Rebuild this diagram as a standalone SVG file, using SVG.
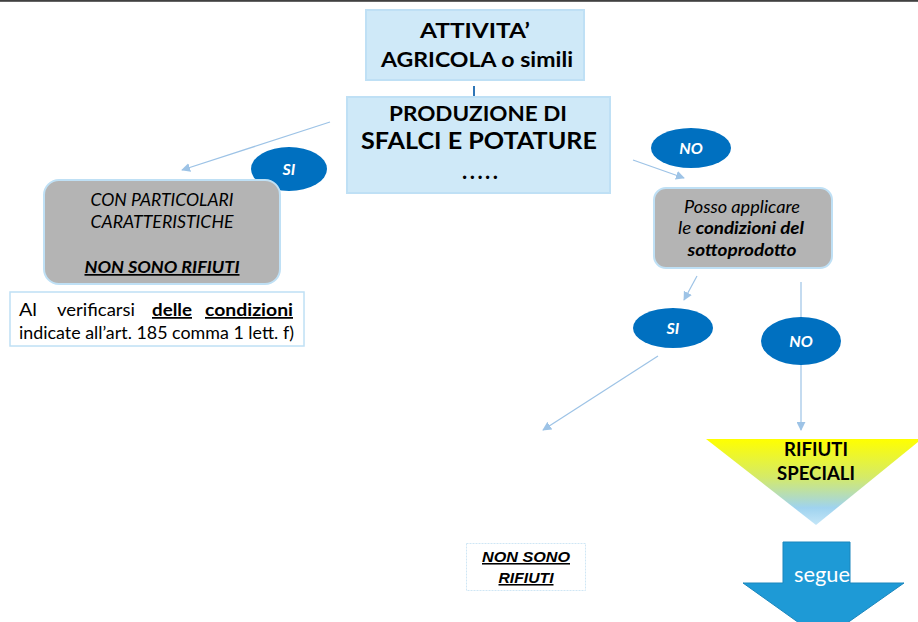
<svg xmlns="http://www.w3.org/2000/svg" width="918" height="622" viewBox="0 0 918 622">
<defs>
<style>
.t{font-family:Lato,"Open Sans","Liberation Sans",sans-serif;fill:#000}
.b{font-weight:bold}
.i{font-style:italic}
.lbl{font-family:Lato,"Open Sans","Liberation Sans",sans-serif;font-weight:bold;font-style:italic;fill:#fff;font-size:16px;text-anchor:middle}
.oval{fill:#0070c0}
.conn{stroke:#9dc3e6;stroke-width:1.2;fill:none}
.gray{fill:#b4b4b4;stroke:#bfe0f5;stroke-width:2}
.lb{fill:#cfe9f8;stroke:#bfe0f5;stroke-width:2}
.nsr{font-family:"Liberation Sans",Arial,sans-serif;font-weight:bold;font-style:italic;font-size:15.5px;text-anchor:middle;text-decoration:underline}
</style>
<marker id="ah" viewBox="0 0 10 10" refX="9" refY="5" markerWidth="9" markerHeight="9" markerUnits="userSpaceOnUse" orient="auto">
<path d="M0,0 L10,5 L0,10 z" fill="#9dc3e6"/>
</marker>
<marker id="ahd" viewBox="0 0 10 10" refX="9" refY="5" markerWidth="7" markerHeight="7" markerUnits="userSpaceOnUse" orient="auto">
<path d="M0,0 L10,5 L0,10 z" fill="#2e75b6"/>
</marker>
<linearGradient id="tri" x1="0" y1="0" x2="0" y2="1">
<stop offset="0" stop-color="#ffff00"/>
<stop offset="0.45" stop-color="#d4ea6a"/>
<stop offset="0.8" stop-color="#9fd3ef"/>
<stop offset="1" stop-color="#c4e6f8"/>
</linearGradient>
</defs>
<rect x="0" y="0" width="918" height="622" fill="#fff"/>
<rect x="0" y="0" width="918" height="1.8" fill="#404040"/>

<g id="connectors">
<line x1="474" y1="86" x2="474" y2="103" stroke="#2e75b6" stroke-width="2" marker-end="url(#ahd)"/>
<line class="conn" x1="330" y1="122" x2="182" y2="170" marker-end="url(#ah)"/>
<line class="conn" x1="633" y1="160" x2="684" y2="178" marker-end="url(#ah)"/>
<line class="conn" x1="697" y1="276" x2="684" y2="300" marker-end="url(#ah)"/>
<line class="conn" x1="801" y1="282" x2="801" y2="430" marker-end="url(#ah)"/>
<line class="conn" x1="658" y1="356" x2="543" y2="430" marker-end="url(#ah)"/>
</g>

<g id="attivita">
<rect class="lb" x="366" y="10" width="218" height="70"/>
<text class="t b" x="475" y="38" font-size="21" text-anchor="middle" textLength="110" lengthAdjust="spacingAndGlyphs">ATTIVITA’</text>
<text class="t b" x="477" y="67" font-size="20" text-anchor="middle" textLength="192" lengthAdjust="spacingAndGlyphs">AGRICOLA o simili</text>
</g>

<g id="produzione">
<rect class="lb" x="347" y="97" width="263" height="96"/>
<text class="t b" x="478" y="121" font-size="20.5" text-anchor="middle" textLength="178" lengthAdjust="spacingAndGlyphs">PRODUZIONE DI</text>
<text class="t b" x="479" y="149" font-size="23.5" text-anchor="middle" textLength="236" lengthAdjust="spacingAndGlyphs">SFALCI E POTATURE</text>
<text class="t b" x="480" y="179" font-size="22" text-anchor="middle" textLength="36" lengthAdjust="spacing">.....</text>
</g>

<g id="si1">
<ellipse class="oval" cx="289" cy="169" rx="38" ry="22"/>
<text class="lbl" x="289" y="175">SI</text>
</g>

<g id="particolari">
<rect class="gray" x="44" y="180" width="236" height="104" rx="15"/>
<text class="t i" x="162" y="206" font-size="17" text-anchor="middle" textLength="143" lengthAdjust="spacingAndGlyphs">CON PARTICOLARI</text>
<text class="t i" x="162" y="228" font-size="17" text-anchor="middle" textLength="143" lengthAdjust="spacingAndGlyphs">CARATTERISTICHE</text>
<text class="t b i" x="162" y="273" font-size="17" text-anchor="middle" text-decoration="underline" textLength="155" lengthAdjust="spacingAndGlyphs">NON SONO RIFIUTI</text>
</g>

<g id="condizioni">
<rect x="10" y="292" width="294" height="54" fill="#fff" stroke="#bfe0f5" stroke-width="1.5"/>
<text class="t" y="316" font-size="17.5"><tspan x="19" textLength="18" lengthAdjust="spacingAndGlyphs">Al</tspan><tspan x="57" textLength="78" lengthAdjust="spacingAndGlyphs">verificarsi</tspan><tspan x="152" font-weight="bold" text-decoration="underline" textLength="40" lengthAdjust="spacingAndGlyphs">delle</tspan><tspan x="205" font-weight="bold" text-decoration="underline" textLength="88" lengthAdjust="spacingAndGlyphs">condizioni</tspan></text>
<text class="t" x="19" y="339" font-size="17.5" textLength="275" lengthAdjust="spacingAndGlyphs">indicate all’art. 185 comma 1 lett. f)</text>
</g>

<g id="no1">
<ellipse class="oval" cx="691" cy="148" rx="40" ry="20"/>
<text class="lbl" x="691" y="154">NO</text>
</g>

<g id="sottoprodotto">
<rect class="gray" x="654" y="188" width="178" height="80" rx="12"/>
<text class="t i" x="742" y="213" font-size="17" text-anchor="middle" textLength="116" lengthAdjust="spacingAndGlyphs">Posso  applicare</text>
<text class="t i" x="741" y="234" font-size="17" text-anchor="middle" textLength="126" lengthAdjust="spacingAndGlyphs">le <tspan font-weight="bold">condizioni del</tspan></text>
<text class="t b i" x="742" y="256" font-size="17" text-anchor="middle" textLength="109" lengthAdjust="spacingAndGlyphs">sottoprodotto</text>
</g>

<g id="si2">
<ellipse class="oval" cx="673" cy="328" rx="40" ry="20"/>
<text class="lbl" x="673" y="334">SI</text>
</g>

<g id="no2">
<ellipse class="oval" cx="801" cy="341" rx="40" ry="24"/>
<text class="lbl" x="801" y="347">NO</text>
</g>

<g id="rifiuti-speciali">
<polygon points="706,439 918,439 918,442 816,525" fill="url(#tri)"/>
<text class="t b" x="816" y="456" font-size="18.5" text-anchor="middle" textLength="64" lengthAdjust="spacingAndGlyphs">RIFIUTI</text>
<text class="t b" x="816" y="480" font-size="18.5" text-anchor="middle" textLength="78" lengthAdjust="spacingAndGlyphs">SPECIALI</text>
</g>

<g id="non-sono-rifiuti">
<rect x="466.5" y="543.5" width="119" height="47" fill="#fff" stroke="#cfe6f5" stroke-width="1" stroke-dasharray="2,1"/>
<text class="nsr" x="526" y="562" textLength="88" lengthAdjust="spacingAndGlyphs">NON SONO</text>
<text class="nsr" x="526" y="583" textLength="55" lengthAdjust="spacingAndGlyphs">RIFIUTI</text>
</g>

<g id="segue">
<polygon points="783,542 850,542 850,583 904,583 823,640 743,583 783,583" fill="#1e9ad6" stroke="#1a86bd" stroke-width="1"/>
<text x="822" y="582" font-family="Lato,'Open Sans',sans-serif" font-size="21" fill="#fff" text-anchor="middle" textLength="56" lengthAdjust="spacingAndGlyphs">segue</text>
</g>
</svg>
